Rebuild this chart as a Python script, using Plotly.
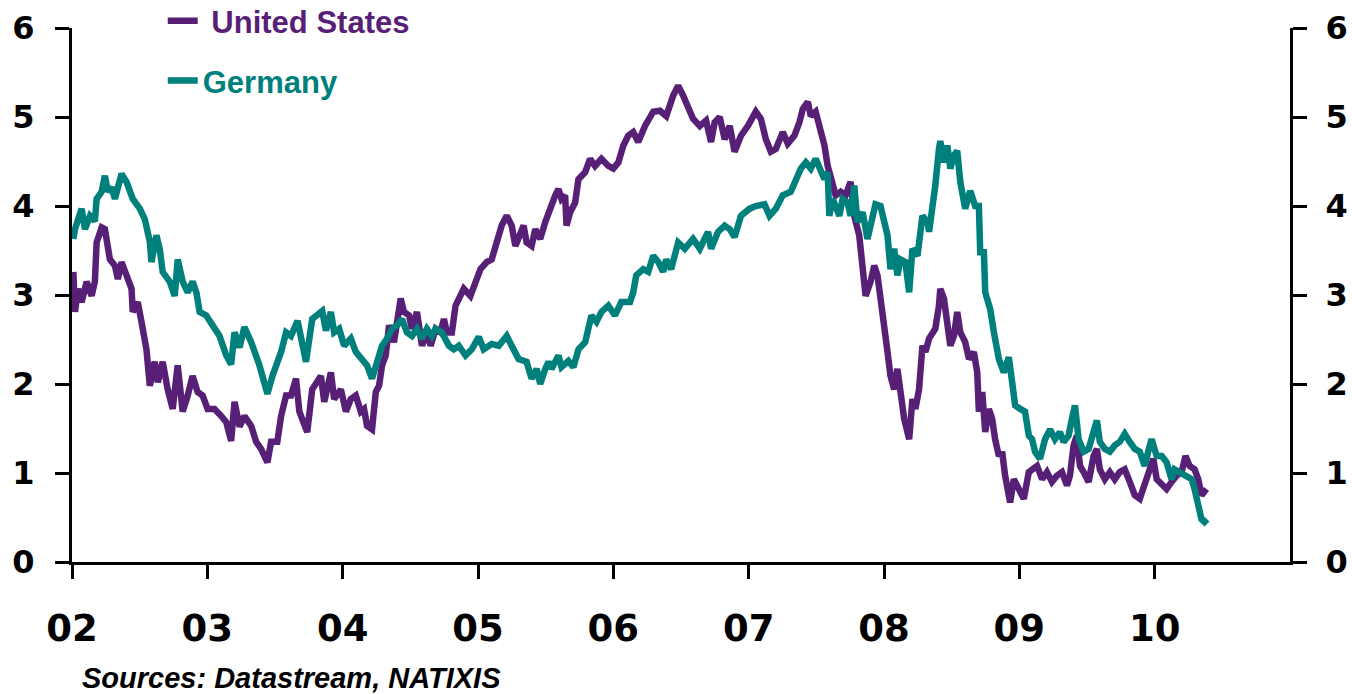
import plotly.graph_objects as go

# ---- data (decimal years, yields in %) ----
us_t = [2002.010, 2002.022, 2002.044, 2002.071, 2002.108, 2002.145, 2002.169, 2002.182, 2002.219, 2002.243,
        2002.280, 2002.317, 2002.339, 2002.366, 2002.403, 2002.440, 2002.449, 2002.486, 2002.513, 2002.550,
        2002.575, 2002.611, 2002.634, 2002.670, 2002.707, 2002.744, 2002.781, 2002.818, 2002.855, 2002.891,
        2002.928, 2002.965, 2003.002, 2003.053, 2003.103, 2003.140, 2003.176, 2003.201, 2003.238, 2003.274,
        2003.324, 2003.361, 2003.397, 2003.444, 2003.471, 2003.517, 2003.545, 2003.582, 2003.618, 2003.655,
        2003.680, 2003.738, 2003.775, 2003.839, 2003.864, 2003.913, 2003.937, 2003.987, 2004.024, 2004.060,
        2004.097, 2004.134, 2004.158, 2004.180, 2004.217, 2004.245, 2004.269, 2004.291, 2004.318, 2004.343,
        2004.379, 2004.401, 2004.429, 2004.453, 2004.490, 2004.512, 2004.549, 2004.586, 2004.622, 2004.650,
        2004.687, 2004.723, 2004.748, 2004.770, 2004.807, 2004.834, 2004.871, 2004.895, 2004.944, 2004.981,
        2005.018, 2005.064, 2005.101, 2005.138, 2005.175, 2005.212, 2005.249, 2005.276, 2005.313, 2005.337,
        2005.359, 2005.396, 2005.423, 2005.460, 2005.497, 2005.534, 2005.571, 2005.595, 2005.617, 2005.644,
        2005.654, 2005.681, 2005.718, 2005.742, 2005.792, 2005.828, 2005.865, 2005.912, 2005.963, 2006.000,
        2006.037, 2006.074, 2006.110, 2006.147, 2006.184, 2006.234, 2006.295, 2006.344, 2006.391, 2006.442,
        2006.479, 2006.516, 2006.552, 2006.589, 2006.639, 2006.685, 2006.722, 2006.749, 2006.786, 2006.823,
        2006.860, 2006.896, 2006.943, 2006.994, 2007.053, 2007.090, 2007.127, 2007.164, 2007.201, 2007.252,
        2007.289, 2007.338, 2007.375, 2007.400, 2007.437, 2007.459, 2007.495, 2007.523, 2007.560, 2007.584,
        2007.606, 2007.643, 2007.680, 2007.716, 2007.753, 2007.780, 2007.817, 2007.842, 2007.864, 2007.901,
        2007.928, 2007.952, 2007.974, 2008.001, 2008.026, 2008.048, 2008.075, 2008.099, 2008.122, 2008.149,
        2008.186, 2008.210, 2008.232, 2008.259, 2008.284, 2008.306, 2008.333, 2008.357, 2008.379, 2008.406,
        2008.416, 2008.443, 2008.468, 2008.490, 2008.517, 2008.541, 2008.564, 2008.600, 2008.628, 2008.664,
        2008.689, 2008.701, 2008.726, 2008.748, 2008.775, 2008.799, 2008.821, 2008.849, 2008.873, 2008.895,
        2008.932, 2008.959, 2008.996, 2009.033, 2009.070, 2009.106, 2009.131, 2009.168, 2009.204, 2009.241,
        2009.278, 2009.315, 2009.352, 2009.374, 2009.401, 2009.425, 2009.448, 2009.475, 2009.512, 2009.549,
        2009.573, 2009.595, 2009.632, 2009.669, 2009.705, 2009.742, 2009.779, 2009.816, 2009.853, 2009.890,
        2009.926, 2009.963, 2009.990, 2010.015, 2010.052, 2010.088, 2010.125, 2010.162, 2010.199, 2010.228,
        2010.258, 2010.295, 2010.322, 2010.346, 2010.383]
us_v = [3.26, 2.81, 3.07, 2.92, 3.15, 2.99, 3.15, 3.59, 3.76, 3.74,
        3.40, 3.33, 3.18, 3.37, 3.22, 3.07, 2.81, 2.92, 2.70, 2.39,
        1.98, 2.25, 2.02, 2.25, 1.94, 1.72, 2.21, 1.69, 1.87, 2.09,
        1.91, 1.87, 1.72, 1.72, 1.64, 1.57, 1.36, 1.80, 1.52, 1.64,
        1.53, 1.35, 1.27, 1.12, 1.35, 1.35, 1.64, 1.87, 1.87, 2.06,
        1.69, 1.46, 1.94, 2.09, 1.80, 2.13, 1.83, 1.94, 1.69, 1.83,
        1.87, 1.69, 1.72, 1.53, 1.49, 1.91, 1.98, 2.21, 2.32, 2.66,
        2.47, 2.73, 2.96, 2.81, 2.77, 2.62, 2.81, 2.43, 2.58, 2.43,
        2.62, 2.58, 2.73, 2.58, 2.58, 2.88, 2.99, 3.07, 2.99, 3.15,
        3.29, 3.37, 3.40, 3.59, 3.78, 3.89, 3.78, 3.55, 3.71, 3.78,
        3.59, 3.55, 3.74, 3.63, 3.82, 4.00, 4.12, 4.19, 4.08, 4.12,
        3.78, 3.93, 4.04, 4.30, 4.38, 4.53, 4.45, 4.53, 4.45, 4.42,
        4.49, 4.68, 4.79, 4.83, 4.72, 4.90, 5.06, 5.07, 5.01, 5.24,
        5.35, 5.24, 5.13, 4.98, 4.90, 4.96, 4.72, 4.94, 5.00, 4.75,
        4.90, 4.61, 4.79, 4.90, 5.06, 4.98, 4.75, 4.61, 4.64, 4.83,
        4.70, 4.79, 4.94, 5.09, 5.17, 5.01, 5.06, 4.90, 4.68, 4.45,
        4.30, 4.12, 4.16, 4.12, 4.27, 3.89, 3.67, 3.37, 2.99, 3.15,
        3.33, 3.22, 2.92, 2.70, 2.36, 2.09, 1.94, 2.17, 1.91, 1.61,
        1.38, 1.83, 1.72, 1.94, 2.43, 2.36, 2.51, 2.58, 2.62, 2.88,
        3.07, 2.96, 2.66, 2.43, 2.54, 2.81, 2.58, 2.47, 2.28, 2.36,
        2.13, 1.69, 1.91, 1.46, 1.72, 1.61, 1.38, 1.19, 1.24, 0.97,
        0.67, 0.93, 0.82, 0.71, 1.01, 1.04, 1.08, 0.93, 1.01, 0.90,
        0.97, 1.01, 0.86, 0.97, 1.31, 1.42, 1.08, 1.01, 0.90, 1.19,
        1.27, 1.04, 0.93, 1.01, 0.93, 1.01, 1.04, 0.90, 0.75, 0.71,
        0.86, 1.01, 1.16, 0.93, 0.86, 0.82, 0.90, 0.97, 1.01, 1.19,
        1.08, 1.04, 0.93, 0.75, 0.82]

de_t = [2002.010, 2002.022, 2002.071, 2002.096, 2002.133, 2002.169, 2002.182, 2002.219, 2002.243, 2002.265,
        2002.292, 2002.317, 2002.366, 2002.403, 2002.449, 2002.501, 2002.538, 2002.575, 2002.587, 2002.624,
        2002.648, 2002.670, 2002.722, 2002.759, 2002.781, 2002.818, 2002.855, 2002.891, 2002.919, 2002.943,
        2002.992, 2003.039, 2003.090, 2003.140, 2003.176, 2003.201, 2003.238, 2003.274, 2003.324, 2003.385,
        2003.444, 2003.481, 2003.545, 2003.582, 2003.618, 2003.667, 2003.729, 2003.775, 2003.849, 2003.876,
        2003.913, 2003.937, 2003.974, 2004.011, 2004.060, 2004.097, 2004.144, 2004.180, 2004.217, 2004.254,
        2004.291, 2004.328, 2004.365, 2004.401, 2004.438, 2004.475, 2004.512, 2004.549, 2004.586, 2004.622,
        2004.659, 2004.687, 2004.733, 2004.785, 2004.821, 2004.858, 2004.908, 2004.954, 2005.006, 2005.042,
        2005.101, 2005.153, 2005.212, 2005.249, 2005.300, 2005.359, 2005.396, 2005.433, 2005.460, 2005.497,
        2005.521, 2005.543, 2005.595, 2005.617, 2005.668, 2005.705, 2005.742, 2005.792, 2005.838, 2005.875,
        2005.912, 2005.963, 2006.012, 2006.059, 2006.123, 2006.147, 2006.169, 2006.221, 2006.258, 2006.295,
        2006.332, 2006.368, 2006.390, 2006.427, 2006.479, 2006.528, 2006.589, 2006.639, 2006.700, 2006.722,
        2006.774, 2006.823, 2006.860, 2006.896, 2006.943, 2007.007, 2007.053, 2007.117, 2007.154, 2007.201,
        2007.252, 2007.311, 2007.348, 2007.385, 2007.422, 2007.459, 2007.495, 2007.532, 2007.560, 2007.584,
        2007.596, 2007.621, 2007.670, 2007.694, 2007.731, 2007.753, 2007.780, 2007.804, 2007.842, 2007.878,
        2007.915, 2007.937, 2007.974, 2008.001, 2008.026, 2008.048, 2008.075, 2008.099, 2008.122, 2008.158,
        2008.186, 2008.210, 2008.247, 2008.284, 2008.321, 2008.333, 2008.357, 2008.379, 2008.406, 2008.416,
        2008.443, 2008.468, 2008.490, 2008.517, 2008.541, 2008.564, 2008.600, 2008.637, 2008.674, 2008.701,
        2008.711, 2008.738, 2008.748, 2008.785, 2008.812, 2008.849, 2008.885, 2008.922, 2008.947, 2008.969,
        2009.006, 2009.042, 2009.070, 2009.094, 2009.116, 2009.153, 2009.190, 2009.227, 2009.263, 2009.300,
        2009.327, 2009.364, 2009.389, 2009.411, 2009.438, 2009.475, 2009.512, 2009.536, 2009.573, 2009.595,
        2009.632, 2009.669, 2009.705, 2009.742, 2009.779, 2009.816, 2009.853, 2009.890, 2009.926, 2009.952,
        2009.977, 2010.015, 2010.052, 2010.088, 2010.125, 2010.147, 2010.184, 2010.236, 2010.273, 2010.295,
        2010.322, 2010.346, 2010.368, 2010.388]
de_v = [3.63, 3.74, 3.97, 3.74, 3.89, 3.83, 4.08, 4.16, 4.34, 4.16,
        4.21, 4.08, 4.36, 4.27, 4.08, 3.97, 3.85, 3.60, 3.37, 3.67,
        3.52, 3.26, 3.15, 2.99, 3.40, 3.15, 3.03, 3.15, 3.03, 2.81,
        2.77, 2.66, 2.54, 2.32, 2.22, 2.58, 2.41, 2.64, 2.47, 2.21,
        1.89, 2.09, 2.36, 2.58, 2.54, 2.71, 2.25, 2.73, 2.82, 2.60,
        2.81, 2.58, 2.62, 2.43, 2.51, 2.36, 2.28, 2.21, 2.06, 2.28,
        2.43, 2.51, 2.62, 2.66, 2.73, 2.58, 2.54, 2.62, 2.51, 2.62,
        2.54, 2.62, 2.58, 2.43, 2.39, 2.43, 2.32, 2.39, 2.53, 2.39,
        2.45, 2.43, 2.54, 2.43, 2.28, 2.25, 2.06, 2.17, 2.00, 2.17,
        2.25, 2.17, 2.32, 2.19, 2.26, 2.19, 2.39, 2.47, 2.77, 2.70,
        2.81, 2.88, 2.77, 2.92, 2.92, 3.03, 3.22, 3.29, 3.26, 3.44,
        3.37, 3.26, 3.40, 3.29, 3.59, 3.52, 3.63, 3.52, 3.71, 3.52,
        3.71, 3.78, 3.74, 3.65, 3.89, 3.97, 4.00, 4.02, 3.89, 3.97,
        4.12, 4.16, 4.27, 4.42, 4.49, 4.42, 4.53, 4.42, 4.30, 4.38,
        3.89, 4.08, 3.89, 4.08, 4.04, 3.89, 4.23, 3.82, 3.93, 3.63,
        3.93, 4.02, 4.00, 3.78, 3.67, 3.29, 3.52, 3.22, 3.40, 3.37,
        3.03, 3.52, 3.44, 3.89, 3.82, 3.71, 3.97, 4.23, 4.64, 4.73,
        4.49, 4.68, 4.42, 4.57, 4.62, 4.27, 3.97, 4.17, 4.00, 4.00,
        3.48, 3.48, 3.03, 2.84, 2.58, 2.28, 2.13, 2.30, 2.02, 1.76,
        1.72, 1.69, 1.42, 1.38, 1.24, 1.16, 1.38, 1.49, 1.38, 1.46,
        1.35, 1.42, 1.61, 1.76, 1.38, 1.24, 1.27, 1.38, 1.59, 1.35,
        1.27, 1.24, 1.31, 1.35, 1.44, 1.35, 1.27, 1.24, 1.08, 1.24,
        1.38, 1.19, 1.19, 1.12, 0.93, 1.04, 1.01, 0.97, 0.93, 0.82,
        0.63, 0.48, 0.45, 0.48]

year_ticks = [2002, 2003, 2004, 2005, 2006, 2007, 2008, 2009, 2010]
year_labels = ["02", "03", "04", "05", "06", "07", "08", "09", "10"]
y_ticks = [0, 1, 2, 3, 4, 5, 6]

US_COLOR = "#581f77"
DE_COLOR = "#00807d"
FONT = "Liberation Sans, Arial, sans-serif"
TICK_FONT = "DejaVu Sans, Liberation Sans, sans-serif"

fig = go.Figure()
fig.add_trace(go.Scatter(
    x=us_t, y=us_v, mode="lines", yaxis="y",
    name=f"<span style='color:{US_COLOR}'> United States</span>",
    line=dict(color=US_COLOR, width=6.5), legend="legend"))
fig.add_trace(go.Scatter(
    x=de_t, y=de_v, mode="lines", yaxis="y2",
    name=f"<span style='color:{DE_COLOR}'>Germany</span>",
    line=dict(color=DE_COLOR, width=6.5), legend="legend2"))

axis_common = dict(showgrid=False, zeroline=False, showline=True, linecolor="black",
                   linewidth=3, ticks="outside", ticklen=14, tickwidth=3, tickcolor="black")

fig.update_layout(
    width=1352, height=694,
    margin=dict(l=72, r=62, t=28, b=132, autoexpand=False),
    paper_bgcolor="white", plot_bgcolor="white",
    font=dict(family=FONT, color="black"),
    showlegend=True,
    xaxis=dict(range=[2002, 2011], tickvals=year_ticks, ticktext=year_labels,
               tickfont=dict(size=37, family=TICK_FONT, weight="bold"),
               ticklabelstandoff=18, **axis_common),
    yaxis=dict(range=[0, 6], tickvals=y_ticks,
               tickfont=dict(size=32, family=TICK_FONT, weight="bold"),
               ticklabelstandoff=14, **axis_common),
    yaxis2=dict(range=[0, 6], tickvals=y_ticks, overlaying="y", side="right",
                tickfont=dict(size=32, family=TICK_FONT, weight="bold"),
                ticklabelstandoff=12, **axis_common),
    legend=dict(x=0.0745, y=1.013, xanchor="left", yanchor="middle",
                bgcolor="rgba(0,0,0,0)", borderwidth=0,
                font=dict(size=31, family=FONT, weight="bold")),
    legend2=dict(x=0.0745, y=0.901, xanchor="left", yanchor="middle",
                 bgcolor="rgba(0,0,0,0)", borderwidth=0,
                 font=dict(size=31, family=FONT, weight="bold")),
    annotations=[dict(text="<b><i>Sources: Datastream, NATIXIS</i></b>",
                      xref="paper", yref="paper", x=0.0066, y=-0.217,
                      xanchor="left", yanchor="middle", showarrow=False,
                      font=dict(size=29, family=FONT, color="black"))],
)

fig.write_html("out.html", config={"displayModeBar": False},
               post_script="document.body.style.margin='0';")
